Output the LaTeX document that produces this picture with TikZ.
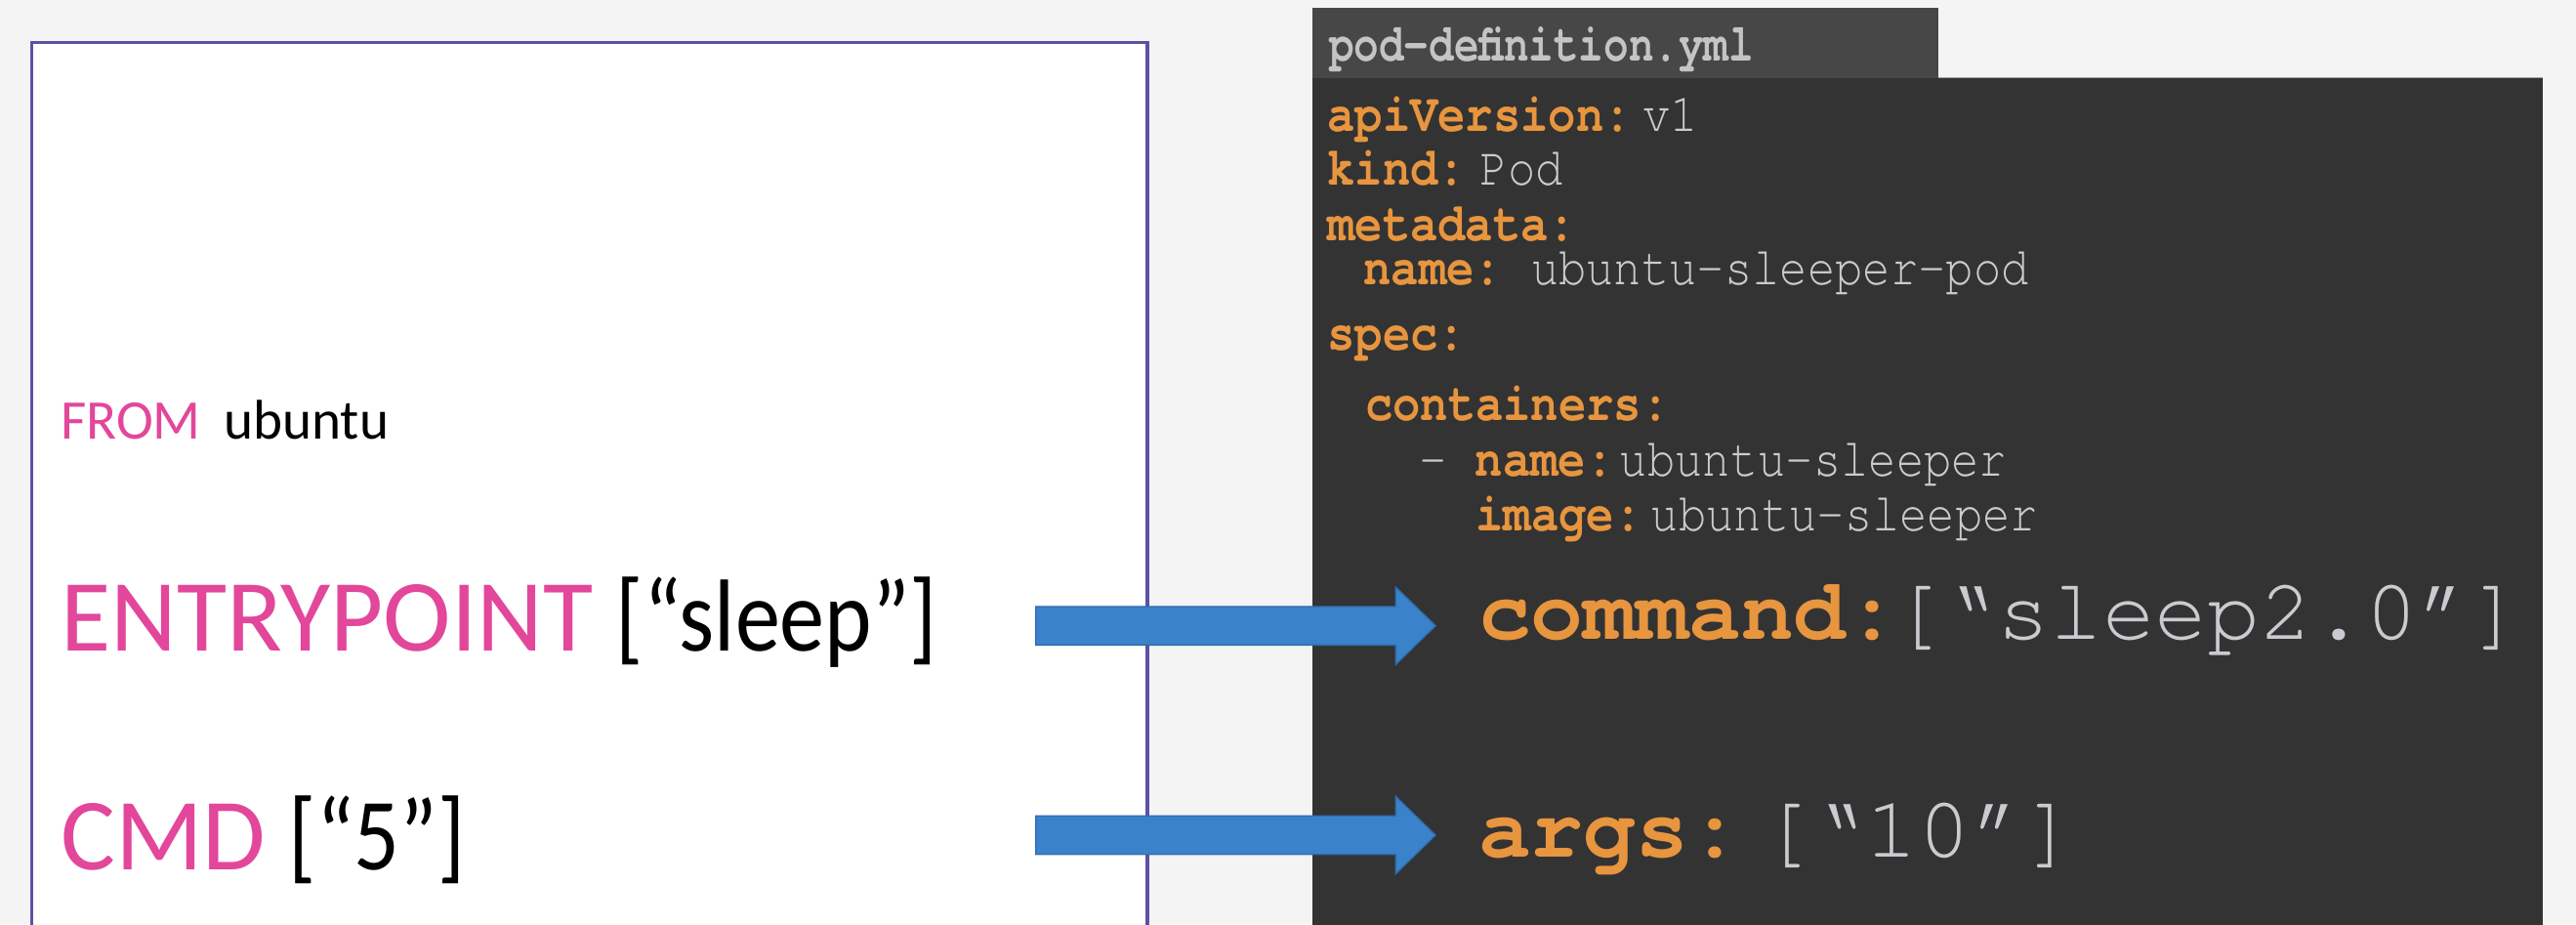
\documentclass[tikz,border=0pt]{standalone}
\usepackage{fontspec}
\usepackage{graphicx}
\usetikzlibrary{calc}
\setmainfont{Carlito}
\newfontfamily\cur{TeX Gyre Cursor}
\definecolor{bgc}{HTML}{F4F4F4}
\definecolor{boxedge}{HTML}{5B52A6}
\definecolor{pinkc}{HTML}{E2479B}
\definecolor{panelc}{HTML}{333333}
\definecolor{tabc}{HTML}{474747}
\definecolor{hdrc}{HTML}{C4C4C4}
\definecolor{keyc}{HTML}{E8953F}
\definecolor{valc}{HTML}{CACBD0}
\definecolor{arrowblue}{HTML}{3A82C9}
\definecolor{arrowedge}{HTML}{2E6DAE}
\tikzset{
  txt/.style={anchor=base west, inner sep=0pt, outer sep=0pt},
  yk/.style={txt, text=keyc, font=\cur\bfseries\fontsize{33}{33}\selectfont},
  yv/.style={txt, text=valc, font=\cur\fontsize{33}{33}\selectfont},
  big/.style={txt, font=\cur\fontsize{53.3}{53.3}\selectfont},
  dock/.style={txt, font=\fontsize{62.3}{62.3}\selectfont},
  blockarrow/.style={fill=arrowblue, draw=arrowedge, line width=0.8pt, line join=miter,
    to path={($(\tikztostart)+(0,-11.7)$) -- ($(\tikztotarget)+(-24.2,-11.7)$)
      -- ($(\tikztotarget)+(-24.2,-23.5)$) -- (\tikztotarget)
      -- ($(\tikztotarget)+(-24.2,23.5)$) -- ($(\tikztotarget)+(-24.2,11.7)$)
      -- ($(\tikztostart)+(0,11.7)$) -- cycle}}
}
\newcommand{\ysq}[1]{\scalebox{0.85}[1]{#1}}
\newcommand{\brk}[1]{\scalebox{0.88}[1]{#1}}
\begin{document}
\begin{tikzpicture}[x=1pt,y=-1pt]
\useasboundingbox (0,0) rectangle (1568,562.3);
\fill[bgc] (0,0) rectangle (1568,562.3);
% left Dockerfile box
\draw[boxedge, line width=2pt, fill=white] (19.5,26) rectangle (698.5,575);
% right yaml panel
\fill[panelc] (799,47.5) rectangle (1548,575);
\fill[tabc] (799,5) rectangle (1180,47.5);
\draw[gray!70, line width=0.6pt] (1180,47.5) -- (1548,47.5);
\node[txt, text=hdrc] (hdr) at (809,37) {\scalebox{0.78}[1]{\cur\bfseries\fontsize{32.5}{32.5}\selectfont pod-definition.yml}};

% left text
\node[txt, font=\fontsize{34}{34}\selectfont] (from) at (37,267) {\textcolor{pinkc}{FROM}\hspace{14pt}ubuntu};
\node[dock] (entry) at (37,396.3) {\textcolor{pinkc}{ENTRYPOINT} \brk{[“sleep”]}};
\node[dock] (cmd) at (37,529.5) {\textcolor{pinkc}{CMD} \brk{[“5”]}};

% yaml small lines
\node[yk] (k1) at (808,80.2) {\ysq{apiVersion:}};
\node[yv] (v1) at (1000,80.2) {\ysq{v1}};
\node[yk] (k2) at (808,112.9) {\ysq{kind:}};
\node[yv] (v2) at (901,112.9) {\ysq{Pod}};
\node[yk] (k3) at (808,146.6) {\ysq{metadata:}};
\node[yk] (k4) at (830,173.4) {\ysq{name:}};
\node[yv] (v4) at (932,173.4) {\ysq{ubuntu-sleeper-pod}};
\node[yk] (k5) at (808,213) {\ysq{spec:}};
\node[yk] (k6) at (831,255.6) {\ysq{containers:}};
\node[yv] (dash) at (864,290) {\ysq{-}};
\node[yk] (k7) at (898,290) {\ysq{name:}};
\node[yv] (v7) at (986,290) {\ysq{ubuntu-sleeper}};
\node[yk] (k8) at (898.5,323) {\ysq{image:}};
\node[yv] (v8) at (1005,323) {\ysq{ubuntu-sleeper}};

% big lines
\node[big] (command) at (900,389) {\textcolor{keyc}{\bfseries command:}\hspace{-4pt}\textcolor{valc}{[“sleep2.0”]}};
\node[big] (args) at (900,521.7) {\textcolor{keyc}{\bfseries args:}\hspace{12pt}\textcolor{valc}{[“10”]}};

% arrows
\coordinate (a1s) at (630.5,380.8);
\coordinate (a1e) at (873.8,380.8);
\coordinate (a2s) at (630.5,508.2);
\coordinate (a2e) at (873.8,508.2);
\draw[blockarrow] (a1s) to (a1e);
\draw[blockarrow] (a2s) to (a2e);
\end{tikzpicture}
\end{document}
